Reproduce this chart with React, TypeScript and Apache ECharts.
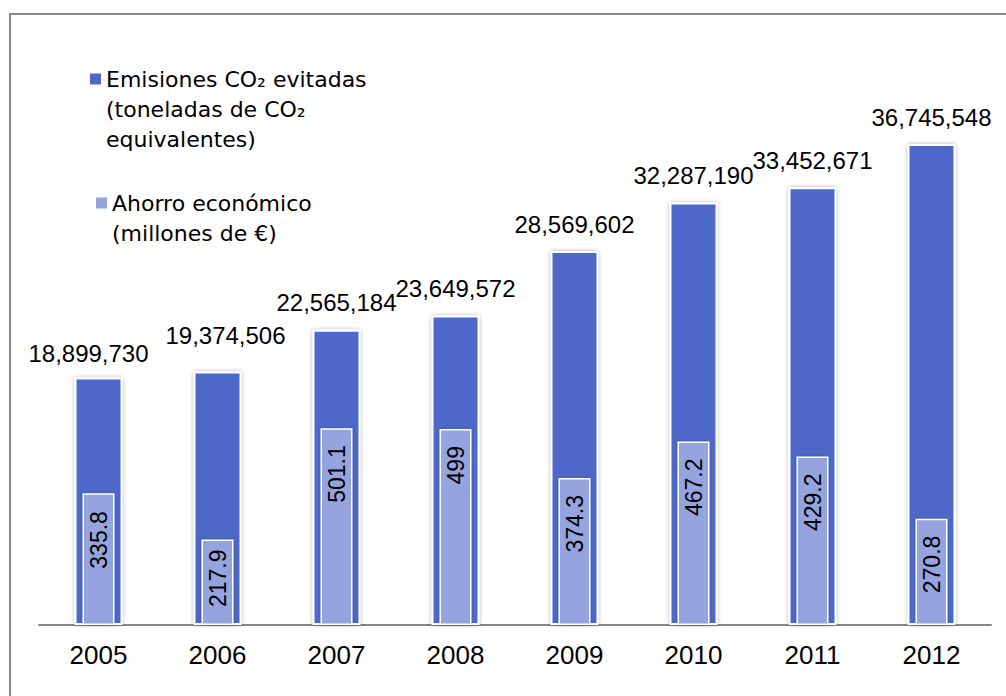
import React, { useEffect, useRef } from "react";
import * as echarts from "echarts";

const years = ["2005", "2006", "2007", "2008", "2009", "2010", "2011", "2012"];
const emisiones = [18899730, 19374506, 22565184, 23649572, 28569602, 32287190, 33452671, 36745548];
const ahorro = [335.8, 217.9, 501.1, 499, 374.3, 467.2, 429.2, 270.8];
const emisionesName = "Emisiones CO₂ evitadas\n(toneladas de CO₂\nequivalentes)";
const ahorroName = "Ahorro económico\n(millones de €)";

// label nudges that the original applied (value labels dx/dy, inside-label distance)
const valueLabelNudge: [number, number][] = [
  [-10, 3], [8, -9], [0, 0], [0, 0], [0, 0], [0, 0], [0, 0], [0, 0],
];
const insideLabelDistance = [18, 10, 17, 17, 17, 17, 17, 17];

const DARK = "#4E67C8";
const LIGHT = "#95A4DE";
const LABEL_FONT = "'Liberation Sans', Arial, sans-serif";
const LEGEND_FONT = "'DejaVu Sans', Verdana, sans-serif";

export default function App() {
  const ref = useRef<HTMLDivElement>(null);
  useEffect(() => {
    if (!ref.current) return;
    const chart = echarts.init(ref.current, null, { renderer: "svg" });
    const icon1 = "path://M0,0L0.05,0M0,9.5L11,9.5L11,20.5L0,20.5ZM0,90L0.05,90";
    const icon2 = "path://M0,0L0.05,0M0,9.5L11,9.5L11,20.5L0,20.5ZM0,60L0.05,60";
    const legendText = {
      fontFamily: LEGEND_FONT,
      fontSize: 22,
      lineHeight: 30,
      color: "#000",
    };
    const emisionesData = emisiones.map((v, i) => ({
      value: v,
      label: { offset: valueLabelNudge[i] },
    }));
    const ahorroData = ahorro.map((v, i) => ({
      value: v,
      label: { distance: insideLabelDistance[i] },
    }));
    chart.setOption({
      animation: false,
      backgroundColor: "#fff",
      grid: { left: 39, right: 15, top: 36, bottom: 71, containLabel: false },
      graphic: [
        {
          type: "rect",
          silent: true,
          shape: { x: 10, y: 14, width: 1010, height: 720 },
          style: { fill: "none", stroke: "#898989", lineWidth: 2 },
        },
      ],
      legend: [
        {
          left: 90,
          top: 64,
          padding: 0,
          orient: "vertical",
          selectedMode: false,
          data: [emisionesName],
          icon: icon1,
          itemWidth: 11,
          itemHeight: 90,
          itemStyle: { borderWidth: 0, shadowBlur: 0 },
          textStyle: legendText,
        },
        {
          left: 96,
          top: 188,
          padding: 0,
          orient: "vertical",
          selectedMode: false,
          data: [ahorroName],
          icon: icon2,
          itemWidth: 11,
          itemHeight: 60,
          itemStyle: { borderWidth: 0, shadowBlur: 0 },
          textStyle: legendText,
        },
      ],
      xAxis: [
        {
          type: "category",
          data: years,
          axisLine: { show: true, lineStyle: { color: "#878787", width: 2 } },
          axisTick: { show: false },
          axisLabel: {
            color: "#000",
            fontSize: 26,
            fontFamily: LABEL_FONT,
            margin: 17,
          },
          z: 0,
        },
        { type: "category", data: years, show: false },
      ],
      yAxis: [
        { type: "value", min: 0, max: 45000000, show: false, splitLine: { show: false } },
        { type: "value", min: 0, max: 1500, show: false, splitLine: { show: false } },
      ],
      series: [
        {
          name: emisionesName,
          type: "bar",
          xAxisIndex: 0,
          yAxisIndex: 0,
          data: emisionesData,
          barWidth: 48,
          itemStyle: {
            color: DARK,
            borderColor: "#fff",
            borderWidth: 2,
            shadowBlur: 4,
            shadowColor: "rgba(0,0,0,0.3)",
          },
          label: {
            show: true,
            position: "top",
            distance: 15,
            color: "#000",
            fontSize: 24,
            fontFamily: LABEL_FONT,
            formatter: (p: any) => Number(p.value).toLocaleString("en-US"),
          },
        },
        {
          name: ahorroName,
          type: "bar",
          xAxisIndex: 1,
          yAxisIndex: 1,
          data: ahorroData,
          barWidth: 32,
          z: 3,
          itemStyle: {
            color: LIGHT,
            borderColor: "#fff",
            borderWidth: 1.5,
            shadowBlur: 3,
            shadowColor: "rgba(0,0,0,0.25)",
          },
          label: {
            show: true,
            position: "insideTop",
            rotate: 90,
            align: "right",
            verticalAlign: "middle",
            distance: 17,
            color: "#000",
            fontSize: 23,
            fontFamily: LABEL_FONT,
            formatter: (p: any) => String(p.value),
          },
        },
      ],
    });
    return () => chart.dispose();
  }, []);
  return (
    <div
      ref={ref}
      style={{ position: "fixed", left: 0, top: 0, width: 1006, height: 696 }}
    />
  );
}
